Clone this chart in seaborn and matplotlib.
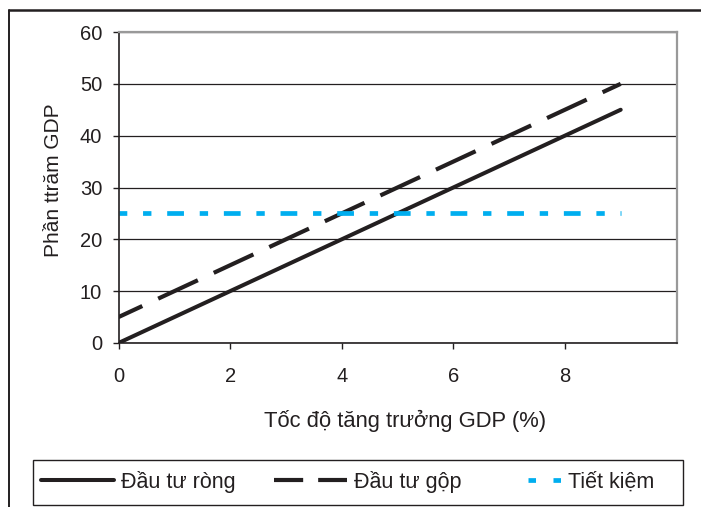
import matplotlib
matplotlib.use("Agg")
import matplotlib.pyplot as plt
import seaborn as sns
import pandas as pd
from matplotlib.lines import Line2D
from matplotlib.patches import Rectangle

sns.set_style("white")
plt.rcParams['font.family'] = ['Liberation Sans', 'DejaVu Sans']

growth = [0, 1, 2, 3, 4, 5, 6, 7, 8, 9]
net_inv = [0, 5, 10, 15, 20, 25, 30, 35, 40, 45]
gross_inv = [5, 10, 15, 20, 25, 30, 35, 40, 45, 50]
savings = [25, 25, 25, 25, 25, 25, 25, 25, 25, 25]
names = ["Đầu tư ròng", "Đầu tư gộp", "Tiết kiệm"]
x_ticks = [0, 2, 4, 6, 8]
y_ticks = [0, 10, 20, 30, 40, 50, 60]

df = pd.DataFrame({"x": growth, names[0]: net_inv, names[1]: gross_inv, names[2]: savings})

DARK = "#231f20"
CYAN = "#00aeef"
W, H = 701, 507

fig = plt.figure(figsize=(W / 100, H / 100), dpi=100)
ax = fig.add_axes([118.5 / W, 1 - 343 / H, (676.5 - 118.5) / W, (343 - 32) / H])

sns.lineplot(data=df, x="x", y=names[0], ax=ax, color=DARK, lw=2.9, label=names[0])
sns.lineplot(data=df, x="x", y=names[1], ax=ax, color=DARK, lw=3.0, label=names[1])
ax.lines[-1].set_linestyle((4.2, (10.5, 4.2)))
sns.lineplot(data=df, x="x", y=names[2], ax=ax, color=CYAN, lw=3.4, label=names[2])
ax.lines[-1].set_linestyle((1.9, (3.55, 3.34, 1.77, 3.34)))

ax.set_xlim(0, 10)
ax.set_ylim(0, 60)
ax.set_xticks(x_ticks)
ax.set_yticks(y_ticks)
ax.grid(axis="y", color=DARK, lw=0.9)
ax.set_axisbelow(True)
for s in ["left", "bottom"]:
    ax.spines[s].set_color(DARK)
    ax.spines[s].set_linewidth(1.2)
for s in ["top", "right"]:
    ax.spines[s].set_color("#999999")
    ax.spines[s].set_linewidth(1.6)
ax.tick_params(axis="both", labelsize=14.5, colors=DARK, length=4.3, width=1,
               direction="out", left=True, bottom=True)
ax.tick_params(axis="x", pad=13)
ax.tick_params(axis="y", pad=7.5)
ax.set_xlabel("Tốc độ tăng trưởng GDP (%)", fontsize=15.8, color=DARK, labelpad=17)
ax.xaxis.label.set_x(0.5 + 7.5 / 558)
ax.set_ylabel("Phần ttrăm GDP", fontsize=15, color=DARK, labelpad=12)
ax.yaxis.label.set_y(0.5 + 7.5 / 311)

ax.get_legend().remove()
handles = ax.get_lines()[:3]

# one legend entry per box position, laid out like the reference
entry_x = [41, 274, 528]
entry_len = [3.4, 3.4, 1.55]
for h, name, ex, hl in zip(handles, names, entry_x, entry_len):
    lg = fig.legend(handles=[h], labels=[name], loc="center left",
                    bbox_to_anchor=(ex / W, 1 - 482 / H), fontsize=15.5,
                    frameon=False, handlelength=hl, handletextpad=0.3,
                    borderpad=0, borderaxespad=0)
    lg.get_texts()[0].set_color(DARK)
    if name == names[1]:
        lg.legend_handles[0].set_linestyle((0, (7.0, 3.6)))
    if name == names[2]:
        lg.legend_handles[0].set_linestyle((0, (1.59, 3.7)))

fig.add_artist(Rectangle((33 / W, 1 - 505 / H), (683 - 33) / W, 45 / H,
                         transform=fig.transFigure, fill=False, edgecolor=DARK, lw=1.0))
fig.add_artist(Line2D([9 / W, 9 / W], [0, 1 - 10 / H], transform=fig.transFigure,
                      color=DARK, lw=1.4))
fig.add_artist(Line2D([9 / W, 1], [1 - 10 / H, 1 - 10 / H], transform=fig.transFigure,
                      color=DARK, lw=1.8))

fig.savefig("out.png", dpi=100)
